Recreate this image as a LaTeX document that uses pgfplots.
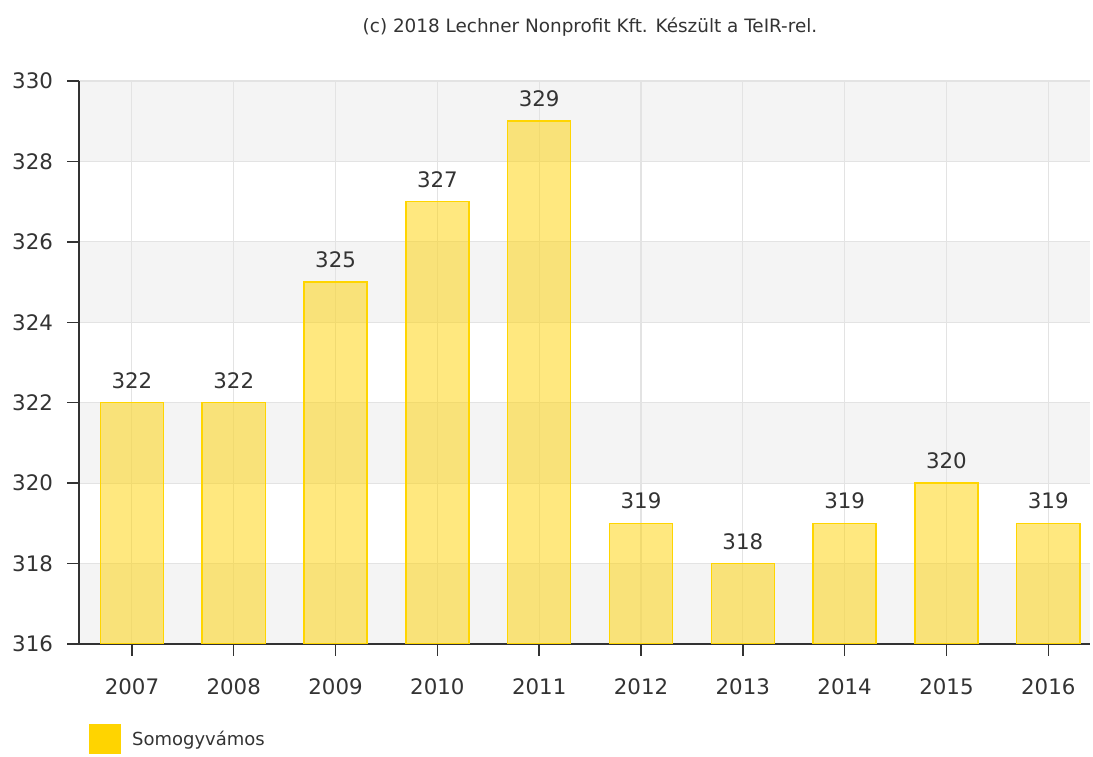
\documentclass[border=0pt]{standalone}
\usepackage{pgfplots}
\pgfplotsset{compat=1.18}
\usepackage{fontspec}
\setmainfont{DejaVu Sans}
\definecolor{bandgray}{HTML}{F4F4F4}
\definecolor{gridgray}{HTML}{E3E3E3}
\definecolor{barfill}{HTML}{FFD200}
\definecolor{baredge}{HTML}{FFD500}
\definecolor{legsq}{HTML}{FFD400}
\definecolor{txt}{HTML}{333333}
\begin{document}
\begin{tikzpicture}
\path (0pt,0pt) rectangle (819.75pt,565.5pt);
\node[font=\fontsize{13.8}{16}\selectfont, text=txt] at (442.5pt,545.25pt) {(c) 2018 Lechner Nonprofit Kft. Készült a TeIR-rel.};
\begin{axis}[
  set layers,
  at={(59.25pt,82.5pt)}, anchor=south west,
  scale only axis, width=758.25pt, height=422.25pt,
  xmin=-0.52, xmax=9.41, ymin=316, ymax=330,
  ybar, bar width=0.62,
  axis lines*=left,
  axis line style={-, line width=1.1pt, color=txt},
  tick align=outside,
  major tick length=9pt,
  tick style={line width=1.1pt, color=txt},
  xtick={0,...,9},
  xticklabels={2007,2008,2009,2010,2011,2012,2013,2014,2015,2016},
  ytick={316,318,...,330},
  /pgf/number format/assume math mode=true,
  /pgf/number format/1000 sep={},
  ticklabel style={font=\fontsize{16}{19}\selectfont, text=txt},
  xticklabel style={yshift=-13.5pt},
  yticklabel style={xshift=-7pt},
  xmajorgrids, ymajorgrids,
  grid style={gridgray, line width=0.8pt},
  legend style={at={(0.0055,-0.1687)}, anchor=west, draw=none, fill=none,
    font=\fontsize{13.5}{16}\selectfont, text=txt},
  legend image code/.code={\path[fill=legsq, draw=none, fill opacity=1] (0pt,-11pt) rectangle (24pt,11pt);\path[draw=none, fill=none] (0pt,0pt) -- (30.5pt,0pt);},
]
\pgfplotsextra{%
\pgfonlayer{axis background}
\fill[bandgray] (axis cs:-0.52,316) rectangle (axis cs:9.41,318);
\fill[bandgray] (axis cs:-0.52,320) rectangle (axis cs:9.41,322);
\fill[bandgray] (axis cs:-0.52,324) rectangle (axis cs:9.41,326);
\fill[bandgray] (axis cs:-0.52,328) rectangle (axis cs:9.41,330);
\endpgfonlayer}
\addplot[fill=barfill, fill opacity=0.5, draw=baredge, line width=1.1pt,
  nodes near coords,
  every node near coord/.append style={font=\fontsize{16}{19}\selectfont, text=txt, text opacity=1, fill opacity=1, inner sep=0pt, anchor=south, yshift=10pt},
  /pgf/number format/assume math mode=true]
  coordinates {(0,322) (1,322) (2,325) (3,327) (4,329) (5,319) (6,318) (7,319) (8,320) (9,319)};
\addlegendentry{Somogyvámos}
\end{axis}
\end{tikzpicture}
\end{document}
